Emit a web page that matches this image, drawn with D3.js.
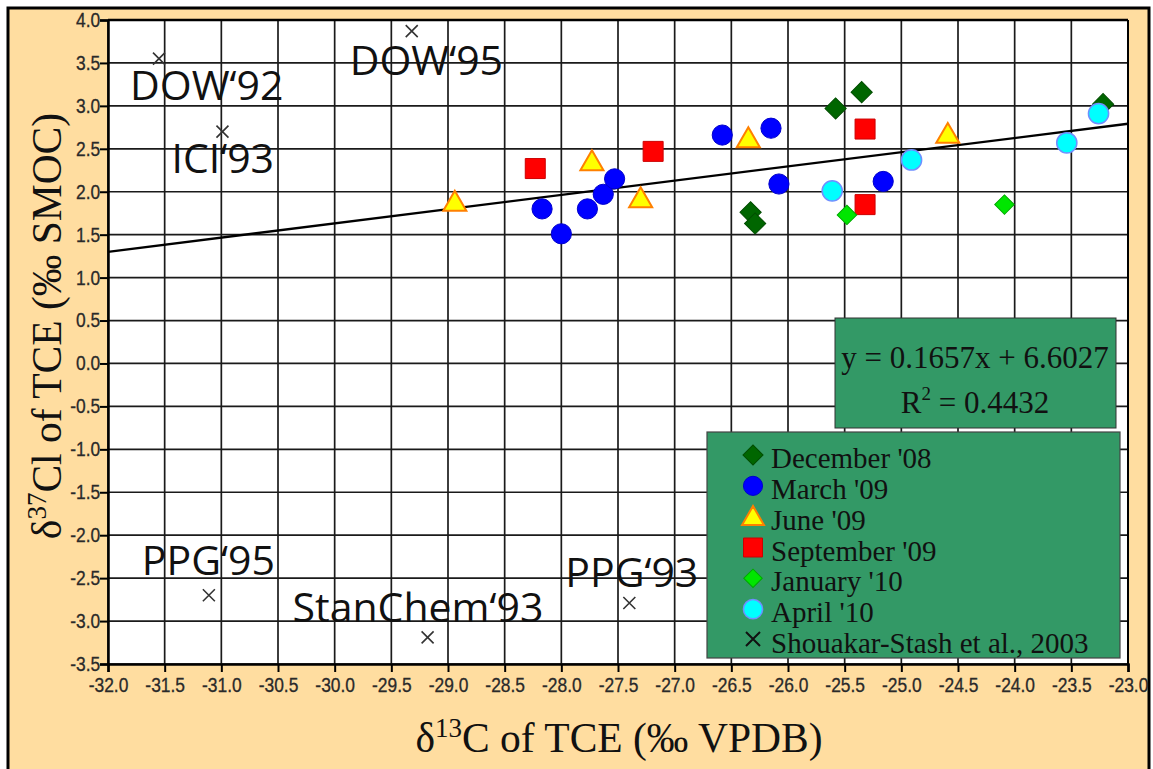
<!DOCTYPE html>
<html lang="en">
<head>
<meta charset="UTF-8">
<title>d37Cl vs d13C of TCE</title>
<script src="https://d3js.org/d3.v7.min.js"></script>
<style>
    body { margin: 0; padding: 0; background: #fff; }
    svg { display: block; }
    .tick-label { font-family: 'Liberation Sans', Arial, sans-serif; font-size: 20px; fill: #2a2a2a; stroke: #2a2a2a; stroke-width: 0.3px; }
    .title { font-family: 'Liberation Serif', 'Times New Roman', serif; font-size: 41.5px; fill: #111; }
    .site-label { font-family: 'Open Sans', sans-serif; font-size: 41px; fill: #111; }
    .box-text { font-family: 'Liberation Serif', 'Times New Roman', serif; fill: #111; }
</style>
</head>
<body>
<svg id="chart" width="1153" height="769"></svg>
<script>
// sampling campaigns, [δ13C, δ37Cl]
const dec08 = [[-26.33, 1.76], [-26.29, 1.63], [-25.58, 2.97], [-25.35, 3.16], [-23.22, 3.02]];
const mar09 = [[-28.17, 1.80], [-28.00, 1.51], [-27.77, 1.80], [-27.63, 1.97], [-27.53, 2.15],
               [-26.58, 2.66], [-26.15, 2.74], [-26.08, 2.09], [-25.16, 2.12]];
const jun09 = [[-28.94, 1.88], [-27.73, 2.35], [-27.30, 1.92], [-26.35, 2.62], [-24.59, 2.67]];
const sep09 = [[-28.23, 2.27], [-27.19, 2.47], [-25.32, 2.73], [-25.32, 1.85]];
const jan10 = [[-25.48, 1.73], [-24.09, 1.85]];
const apr10 = [[-25.61, 2.01], [-24.91, 2.37], [-23.54, 2.57], [-23.26, 2.91]];

// Shouakar-Stash et al., 2003 manufacturer values
const refPoints = [[-31.55, 3.55], [-30.99, 2.70], [-29.32, 3.87], [-31.11, -2.70], [-29.18, -3.19], [-27.40, -2.79]];
const refNames = ["DOW\u201892", "ICI\u201893", "DOW\u201895", "PPG\u201895", "StanChem\u201893", "PPG\u201893"];
// label placement relative to its cross (px)
const refLabelOffsets = [[-29, 41], [-51, 41], [-62, 44], [-67, -20], [-135, -15], [-64, -16]];

const slope = 0.1657;
const intercept = 6.6027;
const rSquared = "0.4432";

const xTicks = d3.range(-32, -22.99, 0.5);
const yTicks = d3.range(-3.5, 4.01, 0.5);

const legendNames = ["December '08", "March '09", "June '09", "September '09", "January '10", "April '10", "Shouakar-Stash et al., 2003"];

const svg = d3.select("#chart");

// background + frame
svg.append("rect").attr("x", 8).attr("y", 8).attr("width", 1141).attr("height", 770)
    .attr("fill", "#FFDDA0").attr("stroke", "#000").attr("stroke-width", 3);

const x = d3.scaleLinear().domain([-32, -23]).range([108, 1128]);
const y = d3.scaleLinear().domain([-3.5, 4]).range([664, 20]);

svg.append("rect")
    .attr("x", x(-32)).attr("y", y(4))
    .attr("width", x(-23) - x(-32)).attr("height", y(-3.5) - y(4))
    .attr("fill", "#fff");

// grid
const grid = svg.append("g");
grid.selectAll(".gx").data(xTicks).enter().append("line")
    .attr("x1", d => x(d)).attr("x2", d => x(d))
    .attr("y1", y(4)).attr("y2", y(-3.5))
    .attr("stroke", "#1a1a1a").attr("stroke-width", 1.7);
grid.selectAll(".gy").data(yTicks).enter().append("line")
    .attr("y1", d => y(d)).attr("y2", d => y(d))
    .attr("x1", x(-32)).attr("x2", x(-23))
    .attr("stroke", "#1a1a1a").attr("stroke-width", 1.7);

// axes
const fmt = d => d3.format(".1f")(d).replace("\u2212", "-");
const xAxis = svg.append("g")
    .attr("transform", `translate(0,${y(-3.5)})`)
    .call(d3.axisBottom(x).tickValues(xTicks).tickSize(8).tickPadding(6).tickFormat(fmt));
const yAxis = svg.append("g")
    .attr("transform", `translate(${x(-32)},0)`)
    .call(d3.axisLeft(y).tickValues(yTicks).tickSize(8).tickPadding(1).tickFormat(fmt));
[xAxis, yAxis].forEach(a => {
    a.select(".domain").attr("stroke", "#000").attr("stroke-width", 2.5);
    a.selectAll(".tick line").attr("stroke", "#000").attr("stroke-width", 2);
    // narrow, tall digits like the original
    a.selectAll(".tick text").attr("class", "tick-label").attr("fill", null)
        .attr("transform", "scale(0.87,1)");
});

// top and right frame lines
svg.append("line").attr("x1", x(-32)).attr("x2", x(-23)).attr("y1", y(4)).attr("y2", y(4))
    .attr("stroke", "#000").attr("stroke-width", 2.5);
svg.append("line").attr("x1", x(-23)).attr("x2", x(-23)).attr("y1", y(4)).attr("y2", y(-3.5))
    .attr("stroke", "#000").attr("stroke-width", 2);

// trend line
svg.append("line")
    .attr("x1", x(-32)).attr("y1", y(slope * -32 + intercept))
    .attr("x2", x(-23)).attr("y2", y(slope * -23 + intercept))
    .attr("stroke", "#000").attr("stroke-width", 2.3);

// marker styles per series (diamonds = squares turned 45°)
const styles = [
    { data: dec08, shape: d3.symbolSquare, rot: 45, size: 225, fill: "#006600", stroke: "#004d00", sw: 1 },
    { data: mar09, shape: d3.symbolCircle, rot: 0, size: 320, fill: "#0000ff", stroke: "#0000cc", sw: 1 },
    { data: jun09, shape: d3.symbolTriangle, rot: 0, size: 230, fill: "#ffff00", stroke: "#ff8000", sw: 2 },
    { data: sep09, shape: d3.symbolSquare, rot: 0, size: 400, fill: "#ff0000", stroke: "#cc0000", sw: 1 },
    { data: jan10, shape: d3.symbolSquare, rot: 45, size: 190, fill: "#00e600", stroke: "#00a800", sw: 1 },
    { data: apr10, shape: d3.symbolCircle, rot: 0, size: 320, fill: "#00ffff", stroke: "#6f8fff", sw: 1.5 }
];
const markerTransform = (s, px, py) =>
    `translate(${px},${py + (s.shape === d3.symbolTriangle ? 2 : 0)}) rotate(${s.rot})`;

const pts = svg.append("g");
styles.forEach(s => {
    pts.selectAll(null).data(s.data).enter().append("path")
        .attr("d", d3.symbol().type(s.shape).size(s.size))
        .attr("transform", d => markerTransform(s, x(d[0]), y(d[1])))
        .attr("fill", s.fill).attr("stroke", s.stroke).attr("stroke-width", s.sw);
});

// reference crosses + labels
const crossPath = "M-6,-6L6,6M-6,6L6,-6";
svg.selectAll(".ref").data(refPoints).enter().append("path")
    .attr("d", crossPath)
    .attr("transform", d => `translate(${x(d[0])},${y(d[1])})`)
    .attr("stroke", "#333").attr("stroke-width", 1.6).attr("fill", "none");
svg.selectAll(".ref-label").data(refPoints).enter().append("text")
    .attr("class", "site-label")
    .attr("x", (d, i) => x(d[0]) + refLabelOffsets[i][0])
    .attr("y", (d, i) => y(d[1]) + refLabelOffsets[i][1])
    .text((d, i) => refNames[i]);

// equation box
svg.append("rect").attr("x", 835).attr("y", 318).attr("width", 281).attr("height", 110)
    .attr("fill", "#339966").attr("stroke", "#333").attr("stroke-width", 1);
svg.append("text").attr("class", "box-text").attr("x", 975).attr("y", 368)
    .attr("text-anchor", "middle").attr("font-size", 31)
    .text(`y = ${slope}x + ${intercept}`);
const r2 = svg.append("text").attr("class", "box-text").attr("x", 975).attr("y", 413)
    .attr("text-anchor", "middle").attr("font-size", 31);
r2.append("tspan").text("R");
r2.append("tspan").attr("font-size", 19).attr("dy", -13).text("2");
r2.append("tspan").attr("dy", 13).text(` = ${rSquared}`);

// legend
svg.append("rect").attr("x", 707).attr("y", 432).attr("width", 413).attr("height", 226)
    .attr("fill", "#339966").attr("stroke", "#444").attr("stroke-width", 1.2);
const legendY = d3.scaleLinear().domain([0, 6]).range([457, 642]);
legendNames.forEach((name, i) => {
    const cy = legendY(i);
    if (i < styles.length) {
        const s = styles[i];
        svg.append("path")
            .attr("d", d3.symbol().type(s.shape).size(s.size * 0.9))
            .attr("transform", markerTransform(s, 753, cy - 2))
            .attr("fill", s.fill).attr("stroke", s.stroke).attr("stroke-width", s.sw);
    } else {
        svg.append("path").attr("d", "M-7,-7L7,7M-7,7L7,-7")
            .attr("transform", `translate(753,${cy - 3})`)
            .attr("stroke", "#111").attr("stroke-width", 2).attr("fill", "none");
    }
    svg.append("text").attr("class", "box-text").attr("x", 771).attr("y", cy + 11)
        .attr("font-size", 29).text(name);
});

// axis titles
const xt = svg.append("text").attr("class", "title").attr("x", 619).attr("y", 752).attr("text-anchor", "middle");
xt.append("tspan").text("\u03b4");
xt.append("tspan").attr("font-size", 27).attr("dy", -15).text("13");
xt.append("tspan").attr("dy", 15).text("C of TCE (\u2030 VPDB)");

const yt = svg.append("text").attr("class", "title").attr("text-anchor", "middle")
    .attr("transform", "translate(61,326) rotate(-90)");
yt.append("tspan").text("\u03b4");
yt.append("tspan").attr("font-size", 27).attr("dy", -15).text("37");
yt.append("tspan").attr("dy", 15).text("Cl of TCE (\u2030 SMOC)");
</script>
</body>
</html>
